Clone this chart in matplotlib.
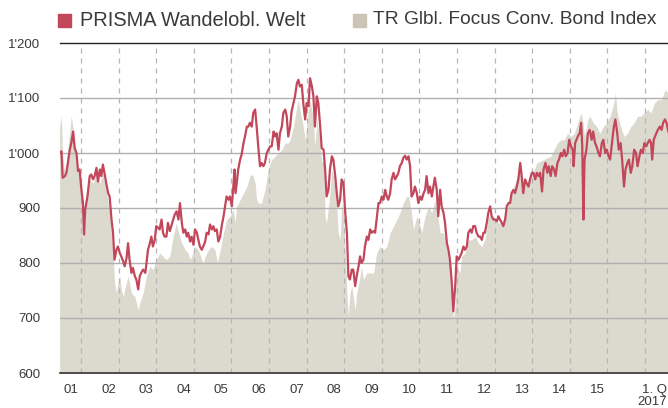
import matplotlib
matplotlib.use("Agg")
import matplotlib.pyplot as plt
from matplotlib.patches import Rectangle

plt.rcParams["font.family"] = ["Liberation Sans", "DejaVu Sans"]

# series names
fund_name = "PRISMA Wandelobl. Welt"
index_name = "TR Glbl. Focus Conv. Bond Index"

# PRISMA fund, indexed (decimal year, value)
prisma_years = [
    2001.43, 2001.48, 2001.51, 2001.57, 2001.61, 2001.65, 2001.70, 2001.74, 2001.79, 2001.83,
    2001.88, 2001.92, 2001.96,
    2002.01, 2002.05, 2002.08, 2002.11, 2002.17, 2002.23, 2002.27, 2002.32, 2002.36, 2002.41,
    2002.45, 2002.50, 2002.54, 2002.58, 2002.63, 2002.67, 2002.72, 2002.76, 2002.81, 2002.85,
    2002.89, 2002.94, 2002.98,
    2003.03, 2003.07, 2003.12, 2003.16, 2003.21, 2003.25, 2003.29, 2003.34, 2003.38, 2003.43,
    2003.47, 2003.52, 2003.56, 2003.60, 2003.65, 2003.71, 2003.78, 2003.83, 2003.87, 2003.91,
    2003.96,
    2004.00, 2004.05, 2004.09, 2004.14, 2004.18, 2004.22, 2004.27, 2004.31, 2004.36, 2004.40,
    2004.45, 2004.49, 2004.54, 2004.59, 2004.63, 2004.68, 2004.72, 2004.77, 2004.81, 2004.85,
    2004.90, 2004.94, 2004.99,
    2005.03, 2005.08, 2005.12, 2005.16, 2005.21, 2005.25, 2005.30, 2005.34, 2005.39, 2005.43,
    2005.48, 2005.52, 2005.56, 2005.61, 2005.65, 2005.70, 2005.74, 2005.79, 2005.83, 2005.87,
    2005.92, 2005.96,
    2006.01, 2006.05, 2006.08, 2006.11, 2006.14, 2006.18, 2006.23, 2006.27, 2006.32, 2006.36,
    2006.41, 2006.45, 2006.49, 2006.54, 2006.58, 2006.63, 2006.67, 2006.72, 2006.76, 2006.80,
    2006.85, 2006.89, 2006.94, 2006.98,
    2007.03, 2007.07, 2007.12, 2007.16, 2007.20, 2007.25, 2007.29, 2007.34, 2007.38, 2007.43,
    2007.47, 2007.51, 2007.56, 2007.60, 2007.65, 2007.69, 2007.74, 2007.78, 2007.82, 2007.87,
    2007.91, 2007.96,
    2008.00, 2008.05, 2008.09, 2008.14, 2008.18, 2008.22, 2008.27, 2008.31, 2008.36, 2008.40,
    2008.45, 2008.49, 2008.53, 2008.58, 2008.62, 2008.67, 2008.71, 2008.76, 2008.80, 2008.84,
    2008.89, 2008.93, 2008.98,
    2009.02, 2009.07, 2009.11, 2009.15, 2009.20, 2009.24, 2009.29, 2009.33, 2009.38, 2009.42,
    2009.46, 2009.51, 2009.55, 2009.60, 2009.64, 2009.69, 2009.73, 2009.78, 2009.82, 2009.86,
    2009.91, 2009.95,
    2010.00, 2010.04, 2010.09, 2010.13, 2010.17, 2010.22, 2010.26, 2010.31, 2010.35, 2010.40,
    2010.44, 2010.48, 2010.53, 2010.57, 2010.62, 2010.66, 2010.71, 2010.75, 2010.79, 2010.84,
    2010.88, 2010.93, 2010.97,
    2011.02, 2011.06, 2011.11, 2011.15, 2011.19, 2011.24, 2011.28, 2011.33, 2011.37, 2011.41,
    2011.46, 2011.50, 2011.55, 2011.59, 2011.64, 2011.68, 2011.73, 2011.77, 2011.81, 2011.86,
    2011.90, 2011.95, 2011.99,
    2012.04, 2012.08, 2012.12, 2012.17, 2012.21, 2012.26, 2012.30, 2012.35, 2012.39, 2012.43,
    2012.48, 2012.52, 2012.57, 2012.61, 2012.66, 2012.70, 2012.74, 2012.79, 2012.83, 2012.88,
    2012.92, 2012.97,
    2013.01, 2013.06, 2013.10, 2013.14, 2013.19, 2013.23, 2013.28, 2013.32, 2013.37, 2013.41,
    2013.45, 2013.50, 2013.54, 2013.59, 2013.63, 2013.68, 2013.72, 2013.76, 2013.81, 2013.85,
    2013.90, 2013.94, 2013.99,
    2014.03, 2014.08, 2014.12, 2014.17, 2014.21, 2014.26, 2014.30, 2014.35, 2014.40, 2014.44,
    2014.49, 2014.53, 2014.58, 2014.62, 2014.67, 2014.71, 2014.76, 2014.80, 2014.85, 2014.89,
    2014.94, 2014.98,
    2015.03, 2015.08, 2015.10, 2015.14, 2015.21, 2015.26, 2015.30, 2015.33, 2015.36, 2015.39,
    2015.44, 2015.48, 2015.53, 2015.58, 2015.62, 2015.67, 2015.71, 2015.76, 2015.80, 2015.85,
    2015.89, 2015.94, 2015.98,
    2016.03, 2016.07, 2016.12, 2016.17, 2016.21, 2016.26, 2016.30, 2016.35, 2016.39, 2016.44,
    2016.48, 2016.53, 2016.57, 2016.62, 2016.66, 2016.71, 2016.76, 2016.80, 2016.85, 2016.89,
    2016.94, 2016.98,
    2017.03, 2017.07, 2017.12, 2017.16, 2017.19, 2017.23, 2017.30, 2017.34, 2017.39, 2017.44,
    2017.48, 2017.53, 2017.57, 2017.62,
]
prisma_values = [
    1000, 1003, 955, 958, 964, 982, 1006, 1018, 1039, 1009,
    1000, 967, 970,
    933, 909, 852, 897, 921, 958, 961, 952, 958, 973,
    948, 970, 958, 979, 961, 945, 927, 921, 879, 855,
    806, 824, 830,
    818, 812, 803, 794, 809, 836, 806, 782, 791, 776,
    770, 752, 776, 782, 788, 782, 824, 836, 848, 830,
    842,
    867, 864, 861, 879, 855, 848, 848, 873, 858, 867,
    879, 888, 894, 879, 909, 873, 855, 861, 848, 855,
    839, 848, 833,
    861, 855, 842, 830, 824, 830, 839, 855, 852, 870,
    861, 867, 858, 861, 839, 848, 867, 885, 903, 921,
    915, 921,
    903, 939, 970, 927, 945, 970, 988, 997, 1018, 1030,
    1048, 1048, 1055, 1048, 1073, 1079, 1048, 1006, 976, 982,
    976, 982, 1000, 1006,
    1012, 1012, 1039, 1030, 1036, 1006, 1036, 1048, 1073, 1079,
    1067, 1030, 1048, 1076, 1091, 1103, 1127, 1133, 1121, 1124,
    1091, 1061,
    1091, 1085, 1136, 1121, 1103, 1048, 1103, 1091, 1048, 1009,
    1006, 970, 921, 933, 970, 994, 988, 958, 927, 903,
    915, 952, 945,
    897, 855, 776, 770, 788, 788, 758, 776, 794, 812,
    800, 806, 830, 848, 842, 861, 855, 858, 855, 879,
    909, 909,
    921, 915, 933, 921, 915, 927, 952, 964, 952, 958,
    964, 976, 982, 991, 995, 988, 994, 976, 921, 927,
    939, 927, 909,
    921, 915, 927, 933, 958, 927, 939, 921, 939, 955,
    933, 885, 933, 903, 891, 873, 836, 824, 806, 764,
    712, 758, 812,
    806, 812, 818, 830, 824, 830, 855, 861, 855, 867,
    867, 855, 848, 848, 842, 855, 855, 873, 891, 903,
    885, 879,
    879, 876, 885, 879, 873, 867, 879, 903, 909, 909,
    927, 933, 927, 939, 952, 982, 958, 927, 952, 945,
    939, 952, 964,
    964, 952, 964, 958, 964, 930, 970, 982, 964, 976,
    958, 976, 970, 958, 982, 988, 1000, 994, 1006, 994,
    1000, 1024,
    1012, 1006, 976, 1018, 1030, 1036, 1055, 1012, 879, 988,
    1006, 1036, 1042, 1024, 1039, 1018, 1012, 1000, 994, 1018,
    1024, 1000, 1006,
    994, 988, 1018, 1048, 1061, 1036, 1006, 1018, 988, 939,
    970, 982, 988, 964, 976, 1006, 1000, 976, 994, 1006,
    1000, 1018,
    1012, 1018, 1024, 1018, 988, 1024, 1036, 1042, 1048, 1042,
    1055, 1061, 1055, 1039,
]

# Thomson Reuters benchmark, indexed (decimal year, value)
index_years = [
    2001.43, 2001.48, 2001.51, 2001.57, 2001.65, 2001.74, 2001.79, 2001.83, 2001.88, 2001.92,
    2002.01, 2002.05, 2002.08, 2002.14, 2002.23, 2002.32, 2002.41, 2002.50, 2002.58, 2002.67,
    2002.76, 2002.85, 2002.89, 2002.94, 2002.98,
    2003.03, 2003.07, 2003.12, 2003.16, 2003.25, 2003.34, 2003.43, 2003.52, 2003.56, 2003.65,
    2003.74, 2003.83, 2003.91,
    2004.00, 2004.09, 2004.18, 2004.27, 2004.36, 2004.45, 2004.53, 2004.59, 2004.68, 2004.77,
    2004.85, 2004.90, 2004.94,
    2005.03, 2005.12, 2005.21, 2005.25, 2005.30, 2005.39, 2005.48, 2005.56, 2005.63, 2005.70,
    2005.79, 2005.87, 2005.96,
    2006.05, 2006.10, 2006.14, 2006.23, 2006.32, 2006.41, 2006.49, 2006.56, 2006.63, 2006.67,
    2006.72, 2006.80, 2006.89, 2006.98,
    2007.07, 2007.16, 2007.25, 2007.34, 2007.43, 2007.51, 2007.56, 2007.65, 2007.74, 2007.78,
    2007.82, 2007.91, 2007.96,
    2008.05, 2008.09, 2008.18, 2008.22, 2008.27, 2008.36, 2008.40, 2008.45, 2008.49, 2008.53,
    2008.62, 2008.67, 2008.71, 2008.80, 2008.84, 2008.89, 2008.93, 2008.98,
    2009.02, 2009.07, 2009.11, 2009.15, 2009.20, 2009.29, 2009.33, 2009.42, 2009.46, 2009.51,
    2009.60, 2009.69, 2009.78, 2009.86, 2009.95,
    2010.04, 2010.13, 2010.22, 2010.31, 2010.40, 2010.48, 2010.57, 2010.66, 2010.71, 2010.79,
    2010.84, 2010.93,
    2011.02, 2011.06, 2011.15, 2011.24, 2011.33, 2011.41, 2011.50, 2011.55, 2011.64, 2011.73,
    2011.77, 2011.81, 2011.86, 2011.90, 2011.95, 2011.99,
    2012.04, 2012.08, 2012.12, 2012.21, 2012.30, 2012.39, 2012.48, 2012.57, 2012.66, 2012.74,
    2012.83, 2012.92,
    2013.01, 2013.10, 2013.19, 2013.28, 2013.37, 2013.45, 2013.54, 2013.63, 2013.68, 2013.72,
    2013.81, 2013.90, 2013.99,
    2014.12, 2014.30, 2014.49, 2014.67, 2014.76, 2014.85, 2014.94,
    2015.03, 2015.12, 2015.21, 2015.30, 2015.35, 2015.39, 2015.48, 2015.53, 2015.62, 2015.71,
    2015.80, 2015.89, 2015.98,
    2016.07, 2016.17, 2016.21, 2016.26, 2016.35, 2016.44, 2016.53, 2016.62, 2016.71, 2016.80,
    2016.89, 2016.98,
    2017.07, 2017.16, 2017.25, 2017.34, 2017.44, 2017.53, 2017.62,
]
index_values = [
    1048, 1067, 994, 964, 1006, 1067, 1045, 1018, 994, 964,
    939, 915, 861, 909, 952, 945, 964, 945, 964, 933,
    891, 824, 764, 745, 764,
    776, 752, 739, 752, 776, 745, 739, 715, 727, 745,
    776, 794, 788,
    806, 818, 812, 806, 812, 848, 873, 855, 836, 824,
    818, 806, 812,
    830, 824, 806, 800, 812, 824, 830, 824, 800, 824,
    855, 879, 885,
    897, 873, 903, 915, 927, 939, 958, 961, 945, 915,
    909, 909, 933, 970,
    988, 994, 1000, 1006, 1018, 1018, 1024, 1048, 1085, 1097,
    1079, 1048, 1024,
    1079, 1097, 1061, 1012, 1061, 1018, 982, 988, 885, 873,
    927, 970, 958, 903, 855, 842, 909, 891,
    830, 745, 703, 745, 758, 715, 745, 776, 794, 770,
    782, 782, 782, 818, 830,
    824, 830, 855, 867, 879, 891, 909, 921, 921, 891,
    861, 885,
    867, 855, 885, 903, 891, 915, 879, 855, 855, 824,
    806, 794, 758, 697, 721, 800,
    788, 782, 812, 818, 842, 842, 848, 836, 830, 842,
    885, 885,
    879, 873, 873, 891, 909, 927, 945, 964, 970, 933,
    952, 945, 958,
    982, 988, 994, 1018, 1024, 1024, 1036,
    1030, 1036, 1055, 1073, 1055, 1030, 1061, 1067, 1055, 1048,
    1036, 1048, 1055,
    1067, 1091, 1109, 1073, 1048, 1030, 1036, 1048, 1055, 1067,
    1067, 1073,
    1079, 1073, 1091, 1097, 1097, 1115, 1109,
]

# axis labels
year_starts = list(range(2002, 2018))
year_labels = ["01", "02", "03", "04", "05", "06", "07", "08", "09", "10",
               "11", "12", "13", "14", "15"]
label_years = list(range(2001, 2016))
y_levels = [600, 700, 800, 900, 1000, 1100, 1200]
y_labels = ["600", "700", "800", "900", "1'000", "1'100", "1'200"]

RED = "#c2475a"
BEIGE = "#dcd9cf"
BEIGE_KEY = "#cbc4b7"
TEXT = "#3a3a3a"

fig = plt.figure(figsize=(6.68, 4.08), dpi=100)
ax = fig.add_axes([60 / 668, 35 / 408, 608 / 668, 330 / 408])

ax.fill_between(index_years, 600, index_values, color=BEIGE, lw=0, zorder=1)

for lvl in y_levels[1:-1]:
    ax.axhline(lvl, color="#b0b0b0", lw=1.0, zorder=2)
ax.axhline(1200, color="#222222", lw=1.0, zorder=2, clip_on=False)
for yr in year_starts:
    ax.axvline(yr, color="#b4b4b4", lw=0.9, ls=(0, (4, 4)), zorder=2)

ax.plot(prisma_years, prisma_values, color=RED, lw=1.6, solid_joinstyle="round", zorder=3)

ax.set_xlim(2001.44, 2017.61)
ax.set_ylim(600, 1200)

ax.set_yticks(y_levels)
ax.set_yticklabels(y_labels)
ax.set_xticks([y + 0.73 for y in label_years])
ax.set_xticklabels(year_labels)
ax.tick_params(axis="y", length=0, pad=14, labelsize=9.5, labelcolor=TEXT)
ax.tick_params(axis="x", length=0, pad=8, labelsize=9.5, labelcolor=TEXT)
for lab in ax.get_yticklabels():
    lab.set_horizontalalignment("right")

ax.annotate("1. Q\n2017", xy=(1, 0), xycoords="axes fraction", xytext=(-0.5, -8),
            textcoords="offset points", ha="right", va="top", fontsize=9.5,
            color=TEXT, linespacing=1.0, annotation_clip=False)

for side in ["top", "right", "left"]:
    ax.spines[side].set_visible(False)
ax.spines["bottom"].set_color("#333333")
ax.spines["bottom"].set_linewidth(1.2)

# legend on top
fig.patches.append(Rectangle((58 / 668, 1 - 26.5 / 408), 13 / 668, 13 / 408,
                             transform=fig.transFigure, color=RED))
fig.text(80 / 668, 1 - 20 / 408, fund_name, fontsize=14.4, color=TEXT, va="center")
fig.patches.append(Rectangle((353 / 668, 1 - 26.5 / 408), 13 / 668, 13 / 408,
                             transform=fig.transFigure, color=BEIGE_KEY))
fig.text(373 / 668, 1 - 20 / 408, index_name, fontsize=13.8, color=TEXT, va="center")

fig.savefig("out.png", dpi=100)
